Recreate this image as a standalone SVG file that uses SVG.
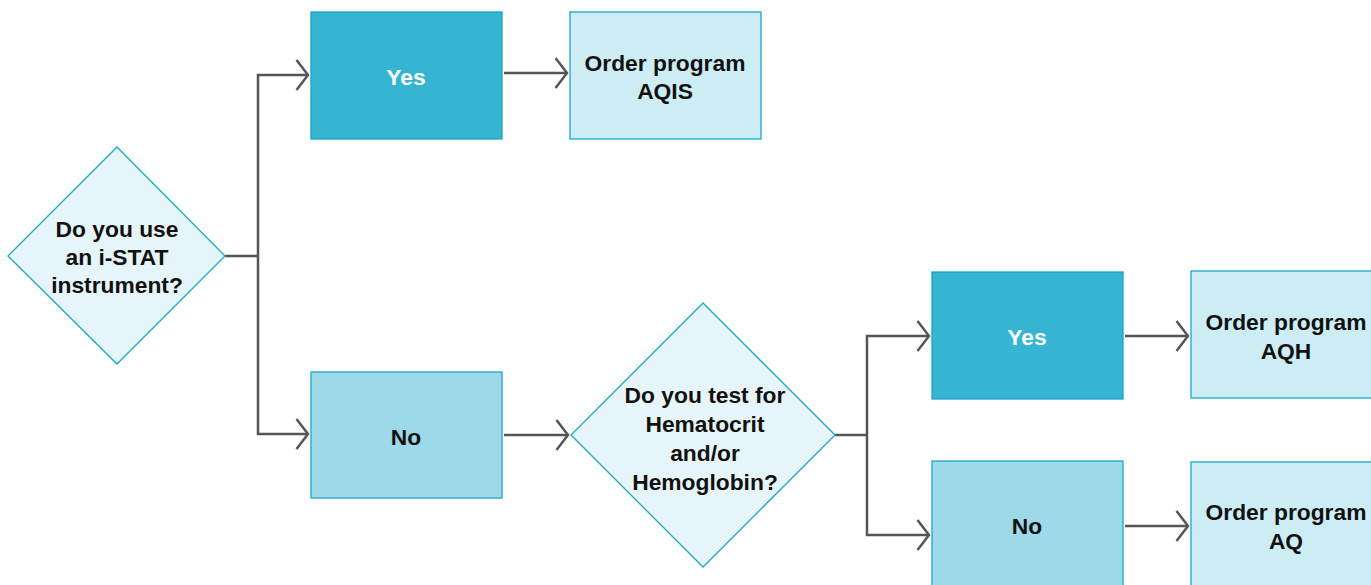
<svg xmlns="http://www.w3.org/2000/svg" width="1371" height="585" viewBox="0 0 1371 585">
<defs>
<style>
.t{font-family:"Liberation Sans",Arial,sans-serif;font-weight:bold;font-size:22.8px;fill:#111;text-anchor:middle}
.w{fill:#fff}
.dia{fill:#E6F5F9;stroke:#1BA6CA;stroke-width:1.3}
.yes{fill:#35B5D2;stroke:#1BA3C7;stroke-width:1.3}
.no{fill:#9DD9E8;stroke:#1BA6CA;stroke-width:1.3}
.ord{fill:#CDEDF4;stroke:#1BA7CC;stroke-width:1.3}
.c{fill:none;stroke:#555;stroke-width:2.5}
</style>
<marker id="ah" markerUnits="userSpaceOnUse" markerWidth="20" markerHeight="34" refX="13" refY="17" orient="auto" viewBox="0 0 20 34">
<path d="M1.5,2 L13,17 L1.5,32" fill="none" stroke="#555" stroke-width="2.5"/>
</marker>
</defs>
<rect width="1371" height="585" fill="#fff"/>
<g id="connectors">
<polyline class="c" points="225,256 258,256"/>
<polyline class="c" points="258,256 258,75 308,75" marker-end="url(#ah)"/>
<polyline class="c" points="258,256 258,434 308,434" marker-end="url(#ah)"/>
<line class="c" x1="504" y1="73" x2="567" y2="73" marker-end="url(#ah)"/>
<line class="c" x1="504" y1="435" x2="568" y2="435" marker-end="url(#ah)"/>
<polyline class="c" points="835,435 867,435"/>
<polyline class="c" points="867,435 867,336 929,336" marker-end="url(#ah)"/>
<polyline class="c" points="867,435 867,535 929,535" marker-end="url(#ah)"/>
<line class="c" x1="1125" y1="336" x2="1188" y2="336" marker-end="url(#ah)"/>
<line class="c" x1="1125" y1="526" x2="1188" y2="526" marker-end="url(#ah)"/>
</g>
<g id="q1">
<polygon class="dia" points="117,147 225,256 117,364 8,256"/>
<text class="t" x="117" y="237">Do you use</text>
<text class="t" x="117" y="265">an i-STAT</text>
<text class="t" x="117" y="293">instrument?</text>
</g>
<g id="yes1">
<rect class="yes" x="311" y="12" width="191" height="127"/>
<text class="t w" x="406" y="85">Yes</text>
</g>
<g id="aqis">
<rect class="ord" x="570" y="12" width="191" height="127"/>
<text class="t" x="665" y="71">Order program</text>
<text class="t" x="665" y="99">AQIS</text>
</g>
<g id="no1">
<rect class="no" x="311" y="372" width="191" height="126"/>
<text class="t" x="406" y="445">No</text>
</g>
<g id="q2">
<polygon class="dia" points="703,303 835,435 703,567 571,435"/>
<text class="t" x="705" y="403">Do you test for</text>
<text class="t" x="705" y="432">Hematocrit</text>
<text class="t" x="705" y="461">and/or</text>
<text class="t" x="705" y="490">Hemoglobin?</text>
</g>
<g id="yes2">
<rect class="yes" x="932" y="272" width="191" height="127"/>
<text class="t w" x="1027" y="345">Yes</text>
</g>
<g id="aqh">
<rect class="ord" x="1191" y="271" width="191" height="127"/>
<text class="t" x="1286" y="330">Order program</text>
<text class="t" x="1286" y="359">AQH</text>
</g>
<g id="no2">
<rect class="no" x="932" y="461" width="191" height="127"/>
<text class="t" x="1027" y="534">No</text>
</g>
<g id="aq">
<rect class="ord" x="1191" y="462" width="191" height="127"/>
<text class="t" x="1286" y="520">Order program</text>
<text class="t" x="1286" y="549">AQ</text>
</g>
</svg>
